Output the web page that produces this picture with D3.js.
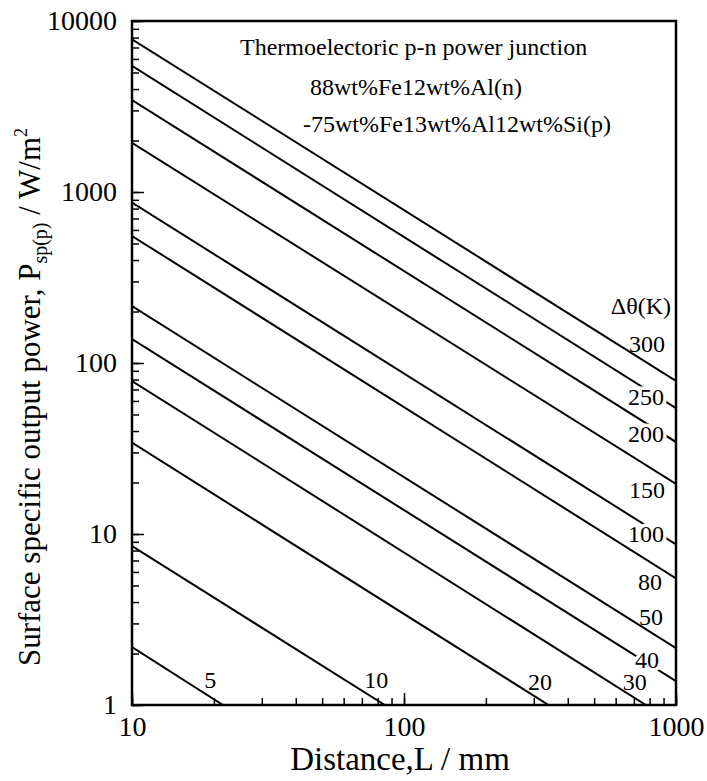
<!DOCTYPE html>
<html>
<head>
<meta charset="utf-8">
<script src="https://cdn.jsdelivr.net/npm/d3@7"></script>
<style>
  body { margin: 0; background: #fff; }
  svg { display: block; }
  text { font-family: "Liberation Serif", "Times New Roman", serif; fill: #000; }
</style>
</head>
<body>
<div id="chart"></div>
<script>
// <-- ************ DATA ************ -->
// temperature difference of each line (K)
const DTHETA = [300, 250, 200, 150, 100, 80, 50, 40, 30, 20, 10, 5];
// power at L = 10 mm (W/m2)
const P_START = [7820, 5460, 3450, 1940, 867, 553, 215, 138, 78.5, 34.2, 8.5, 2.18];
// where each line leaves the frame (L in mm, P in W/m2)
const L_END = [1000, 1000, 1000, 1000, 1000, 1000, 1000, 1000, 775, 340, 85, 21.6];
const P_END = [78.5, 54.5, 34.5, 19.6, 8.7, 5.5, 2.15, 1.38, 1, 1, 1, 1];

// line labels, placed in data units (L, P)
const LABEL_L = [782, 776, 776, 782, 776, 802, 809, 782, 706, 316, 79, 19.4];
const LABEL_P = [116, 56.8, 34.5, 16.3, 8.97, 4.71, 2.94, 1.64, 1.22, 1.22, 1.26, 1.26];
const LABEL_GAP = [false, true, true, false, true, false, false, true, false, false, false, false];

const X_TICKS = [10, 100, 1000];
const Y_TICKS = [1, 10, 100, 1000, 10000];

const NOTE_LINES = ["Thermoelectoric p-n power junction",
                    "88wt%Fe12wt%Al(n)",
                    "-75wt%Fe13wt%Al12wt%Si(p)"];

// <-- ************ FRAME ************ -->
const FRAME_WIDTH = 707;
const FRAME_HEIGHT = 781;
const MARGINS = {left: 132, right: 31, top: 21, bottom: 76};
const GRAPH_WIDTH = FRAME_WIDTH - MARGINS.left - MARGINS.right;
const GRAPH_HEIGHT = FRAME_HEIGHT - MARGINS.top - MARGINS.bottom;

const svg = d3.select("#chart").append("svg")
  .attr("width", FRAME_WIDTH)
  .attr("height", FRAME_HEIGHT);

const X_SCALE = d3.scaleLog().domain([10, 1000]).range([0, GRAPH_WIDTH]);
const Y_SCALE = d3.scaleLog().domain([1, 10000]).range([GRAPH_HEIGHT, 0]);

const g = svg.append("g")
  .attr("transform", "translate(" + MARGINS.left + "," + MARGINS.top + ")");

g.append("clipPath").attr("id", "clip")
  .append("rect").attr("width", GRAPH_WIDTH).attr("height", GRAPH_HEIGHT);

// minor ticks (inward)
const yMinor = g.append("g")
  .call(d3.axisLeft(Y_SCALE).ticks(10).tickSize(-7).tickFormat(""));
const xMinor = g.append("g")
  .attr("transform", "translate(0," + GRAPH_HEIGHT + ")")
  .call(d3.axisBottom(X_SCALE).ticks(10).tickSize(-7).tickFormat(""));

// major ticks + labels
const yMajor = g.append("g")
  .call(d3.axisLeft(Y_SCALE).tickValues(Y_TICKS).tickSize(-12).tickPadding(15)
        .tickFormat(d3.format("d")));
const xMajor = g.append("g")
  .attr("transform", "translate(0," + GRAPH_HEIGHT + ")")
  .call(d3.axisBottom(X_SCALE).tickValues(X_TICKS).tickSize(-12).tickPadding(11)
        .tickFormat(d3.format("d")));

[yMinor, xMinor, yMajor, xMajor].forEach((a) => {
  a.select(".domain").remove();
  a.selectAll("line").attr("stroke", "#000").attr("stroke-width", 1.5);
  a.attr("font-family", null);
  a.selectAll("text").attr("font-size", "28px");
});

// <-- ************ LINES ************ -->
const lineGen = d3.line()
  .x((d) => X_SCALE(d[0]))
  .y((d) => Y_SCALE(d[1]));

const series = DTHETA.map((dt, i) => ({
  dt: dt,
  pts: [[10, P_START[i]], [L_END[i], P_END[i]]],
  lab: [LABEL_L[i], LABEL_P[i]],
  gap: LABEL_GAP[i]
}));

g.append("g").attr("clip-path", "url(#clip)")
  .selectAll("path")
  .data(series)
  .enter()
  .append("path")
    .attr("d", (d) => lineGen(d.pts))
    .attr("fill", "none")
    .attr("stroke", "#000")
    .attr("stroke-width", 2);

// line labels
g.append("g")
  .selectAll("text")
  .data(series)
  .enter()
  .append("text")
    .attr("x", (d) => X_SCALE(d.lab[0]))
    .attr("y", (d) => Y_SCALE(d.lab[1]))
    .attr("text-anchor", "middle")
    .attr("font-size", "24px")
    .attr("stroke", (d) => d.gap ? "#fff" : "none")
    .attr("stroke-width", 7)
    .attr("paint-order", "stroke")
    .text((d) => d.dt);

g.append("text")
  .attr("x", X_SCALE(743))
  .attr("y", Y_SCALE(194))
  .attr("text-anchor", "middle")
  .attr("font-size", "24px")
  .text("Δθ(K)");

// frame
g.append("rect")
  .attr("width", GRAPH_WIDTH)
  .attr("height", GRAPH_HEIGHT)
  .attr("fill", "none")
  .attr("stroke", "#000")
  .attr("stroke-width", 2.5);

// note text in the upper right
const note = g.append("g").attr("font-size", "24px");
note.append("text").attr("x", 108).attr("y", 34).text(NOTE_LINES[0]);
note.append("text").attr("x", 178).attr("y", 74).text(NOTE_LINES[1]);
note.append("text").attr("x", 171).attr("y", 111).text(NOTE_LINES[2]);

// <-- ************ AXIS TITLES ************ -->
svg.append("text")
  .attr("x", MARGINS.left + X_SCALE(100) - 4)
  .attr("y", 770)
  .attr("text-anchor", "middle")
  .attr("font-size", "33px")
  .text("Distance,L / mm");

const yTitle = svg.append("text")
  .attr("transform", "translate(40,397) rotate(-90)")
  .attr("text-anchor", "middle")
  .attr("font-size", "31px");
yTitle.append("tspan").text("Surface specific output power, P");
yTitle.append("tspan").attr("font-size", "20px").attr("dy", 7).text("sp(p)");
yTitle.append("tspan").attr("dy", -7).text(" / W/m");
yTitle.append("tspan").attr("font-size", "18px").attr("dy", -13).text("2");
</script>
</body>
</html>
